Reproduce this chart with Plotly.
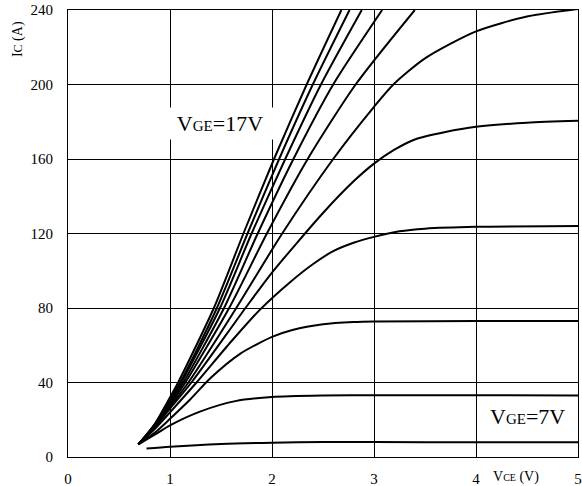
import plotly.graph_objects as go

# Output characteristics IC vs VCE for VGE = 7 .. 17 V
vge_levels = [7, 8, 9, 10, 11, 12, 13, 14, 15, 16, 17]

vce_7 = [0.77, 1.0, 1.5, 2.0, 2.5, 3.0, 4.0, 5.0]
ic_7 = [4.5, 5.5, 7.0, 7.7, 8.0, 8.0, 7.9, 7.9]

vce_8 = [0.69, 0.85, 1.0, 1.3, 1.64, 2.0, 2.5, 3.0, 4.0, 5.0]
ic_8 = [6.8, 12.0, 17.0, 24.5, 30.0, 32.2, 33.0, 33.2, 33.2, 33.0]

vce_9 = [0.69, 0.85, 1.0, 1.2, 1.4, 1.69, 2.0, 2.2, 2.5, 2.8, 3.0, 4.0, 5.0]
ic_9 = [6.8, 13.0, 20.5, 31.0, 42.5, 55.5, 64.5, 68.2, 71.3, 72.5, 72.8, 73.0, 73.0]

vce_10 = [0.69, 0.85, 1.0, 1.26, 1.6, 1.88, 2.18, 2.4, 2.6, 2.8, 3.0, 3.25, 3.5, 4.0, 5.0]
ic_10 = [6.8, 15.0, 24.0, 40.0, 62.0, 79.0, 94.0, 103.5, 110.5, 115.0, 118.2, 121.2, 122.6, 123.6, 124.0]

vce_11 = [0.69, 0.85, 1.0, 1.21, 1.74, 2.0, 2.5, 2.8, 3.0, 3.2, 3.4, 3.7, 4.0, 4.5, 5.0]
ic_11 = [6.8, 16.0, 26.0, 40.0, 80.0, 99.0, 131.0, 148.0, 157.5, 165.0, 170.5, 174.5, 177.3, 179.5, 180.5]

vce_12 = [0.69, 0.85, 1.0, 1.18, 1.65, 2.1, 2.6, 3.0, 3.19, 3.5, 4.0, 4.5, 5.0]
ic_12 = [6.8, 16.2, 27.0, 40.0, 80.0, 120.0, 160.0, 188.0, 200.0, 214.0, 228.5, 236.5, 240.5]

vce_13 = [0.69, 0.85, 1.0, 1.15, 1.58, 1.95, 2.35, 2.82, 3.40]
ic_13 = [6.8, 16.5, 28.0, 40.0, 80.0, 120.0, 160.0, 200.0, 240.0]

vce_14 = [0.69, 0.85, 1.0, 1.13, 1.53, 1.86, 2.21, 2.60, 3.08]
ic_14 = [6.8, 16.8, 29.0, 40.0, 80.0, 120.0, 160.0, 200.0, 240.0]

vce_15 = [0.69, 0.85, 1.0, 1.11, 1.49, 1.80, 2.13, 2.48, 2.88]
ic_15 = [6.8, 17.1, 30.0, 40.0, 80.0, 120.0, 160.0, 200.0, 240.0]

vce_16 = [0.69, 0.85, 1.0, 1.10, 1.46, 1.76, 2.07, 2.40, 2.76]
ic_16 = [6.8, 17.4, 31.0, 40.0, 80.0, 120.0, 160.0, 200.0, 240.0]

vce_17 = [0.69, 0.85, 1.0, 1.08, 1.43, 1.72, 2.02, 2.34, 2.68]
ic_17 = [6.8, 17.7, 32.0, 40.0, 80.0, 120.0, 160.0, 200.0, 240.0]

curves = [
    (vce_7, ic_7), (vce_8, ic_8), (vce_9, ic_9), (vce_10, ic_10),
    (vce_11, ic_11), (vce_12, ic_12), (vce_13, ic_13), (vce_14, ic_14),
    (vce_15, ic_15), (vce_16, ic_16), (vce_17, ic_17),
]

x_ticks = [0, 1, 2, 3, 4, 5]
y_ticks = [0, 40, 80, 120, 160, 200, 240]

FONT = "Liberation Serif"

fig = go.Figure()
for v, (xs, ys) in zip(vge_levels, curves):
    fig.add_trace(go.Scatter(
        x=xs, y=ys, mode="lines", name=f"VGE={v}V",
        line=dict(color="black", width=2, shape="spline", smoothing=0.7),
        showlegend=False,
    ))

axis_common = dict(
    showgrid=True, gridcolor="black", gridwidth=1,
    showline=True, linecolor="black", linewidth=1, mirror=True,
    zeroline=False, ticks="", automargin=False,
    tickfont=dict(family=FONT, size=15),
)

fig.update_layout(
    width=582, height=486,
    margin=dict(l=68, r=4, t=10, b=29),
    paper_bgcolor="white", plot_bgcolor="white",
    font=dict(family=FONT, color="black", size=15),
    xaxis=dict(range=[0, 5], tickvals=x_ticks, ticktext=[str(t) for t in x_ticks],
               ticklabelstandoff=8, **axis_common),
    yaxis=dict(range=[0, 240], tickvals=y_ticks, ticktext=[str(t) for t in y_ticks],
               ticklabelstandoff=11, **axis_common),
    annotations=[
        dict(xref="paper", yref="paper", x=-0.098, y=0.935, xanchor="center", yanchor="middle",
             text="I<span style='font-size:12px'>C</span> (A)", textangle=-90,
             showarrow=False, font=dict(family=FONT, size=14)),
        dict(xref="paper", yref="paper", x=0.879, y=-0.045, xanchor="center", yanchor="middle",
             text="V<span style='font-size:10px'>CE</span> (V)",
             showarrow=False, font=dict(family=FONT, size=14)),
        dict(xref="x", yref="y", x=1.49, y=179.3, xanchor="center", yanchor="middle",
             text="V<span style='font-size:15px'>GE</span>=17V",
             showarrow=False, bgcolor="white", width=112, height=29,
             font=dict(family=FONT, size=22)),
        dict(xref="x", yref="y", x=4.5, y=22, xanchor="center", yanchor="middle",
             text="V<span style='font-size:15px'>GE</span>=7V",
             showarrow=False, font=dict(family=FONT, size=22)),
    ],
)

fig.write_html("out.html")
